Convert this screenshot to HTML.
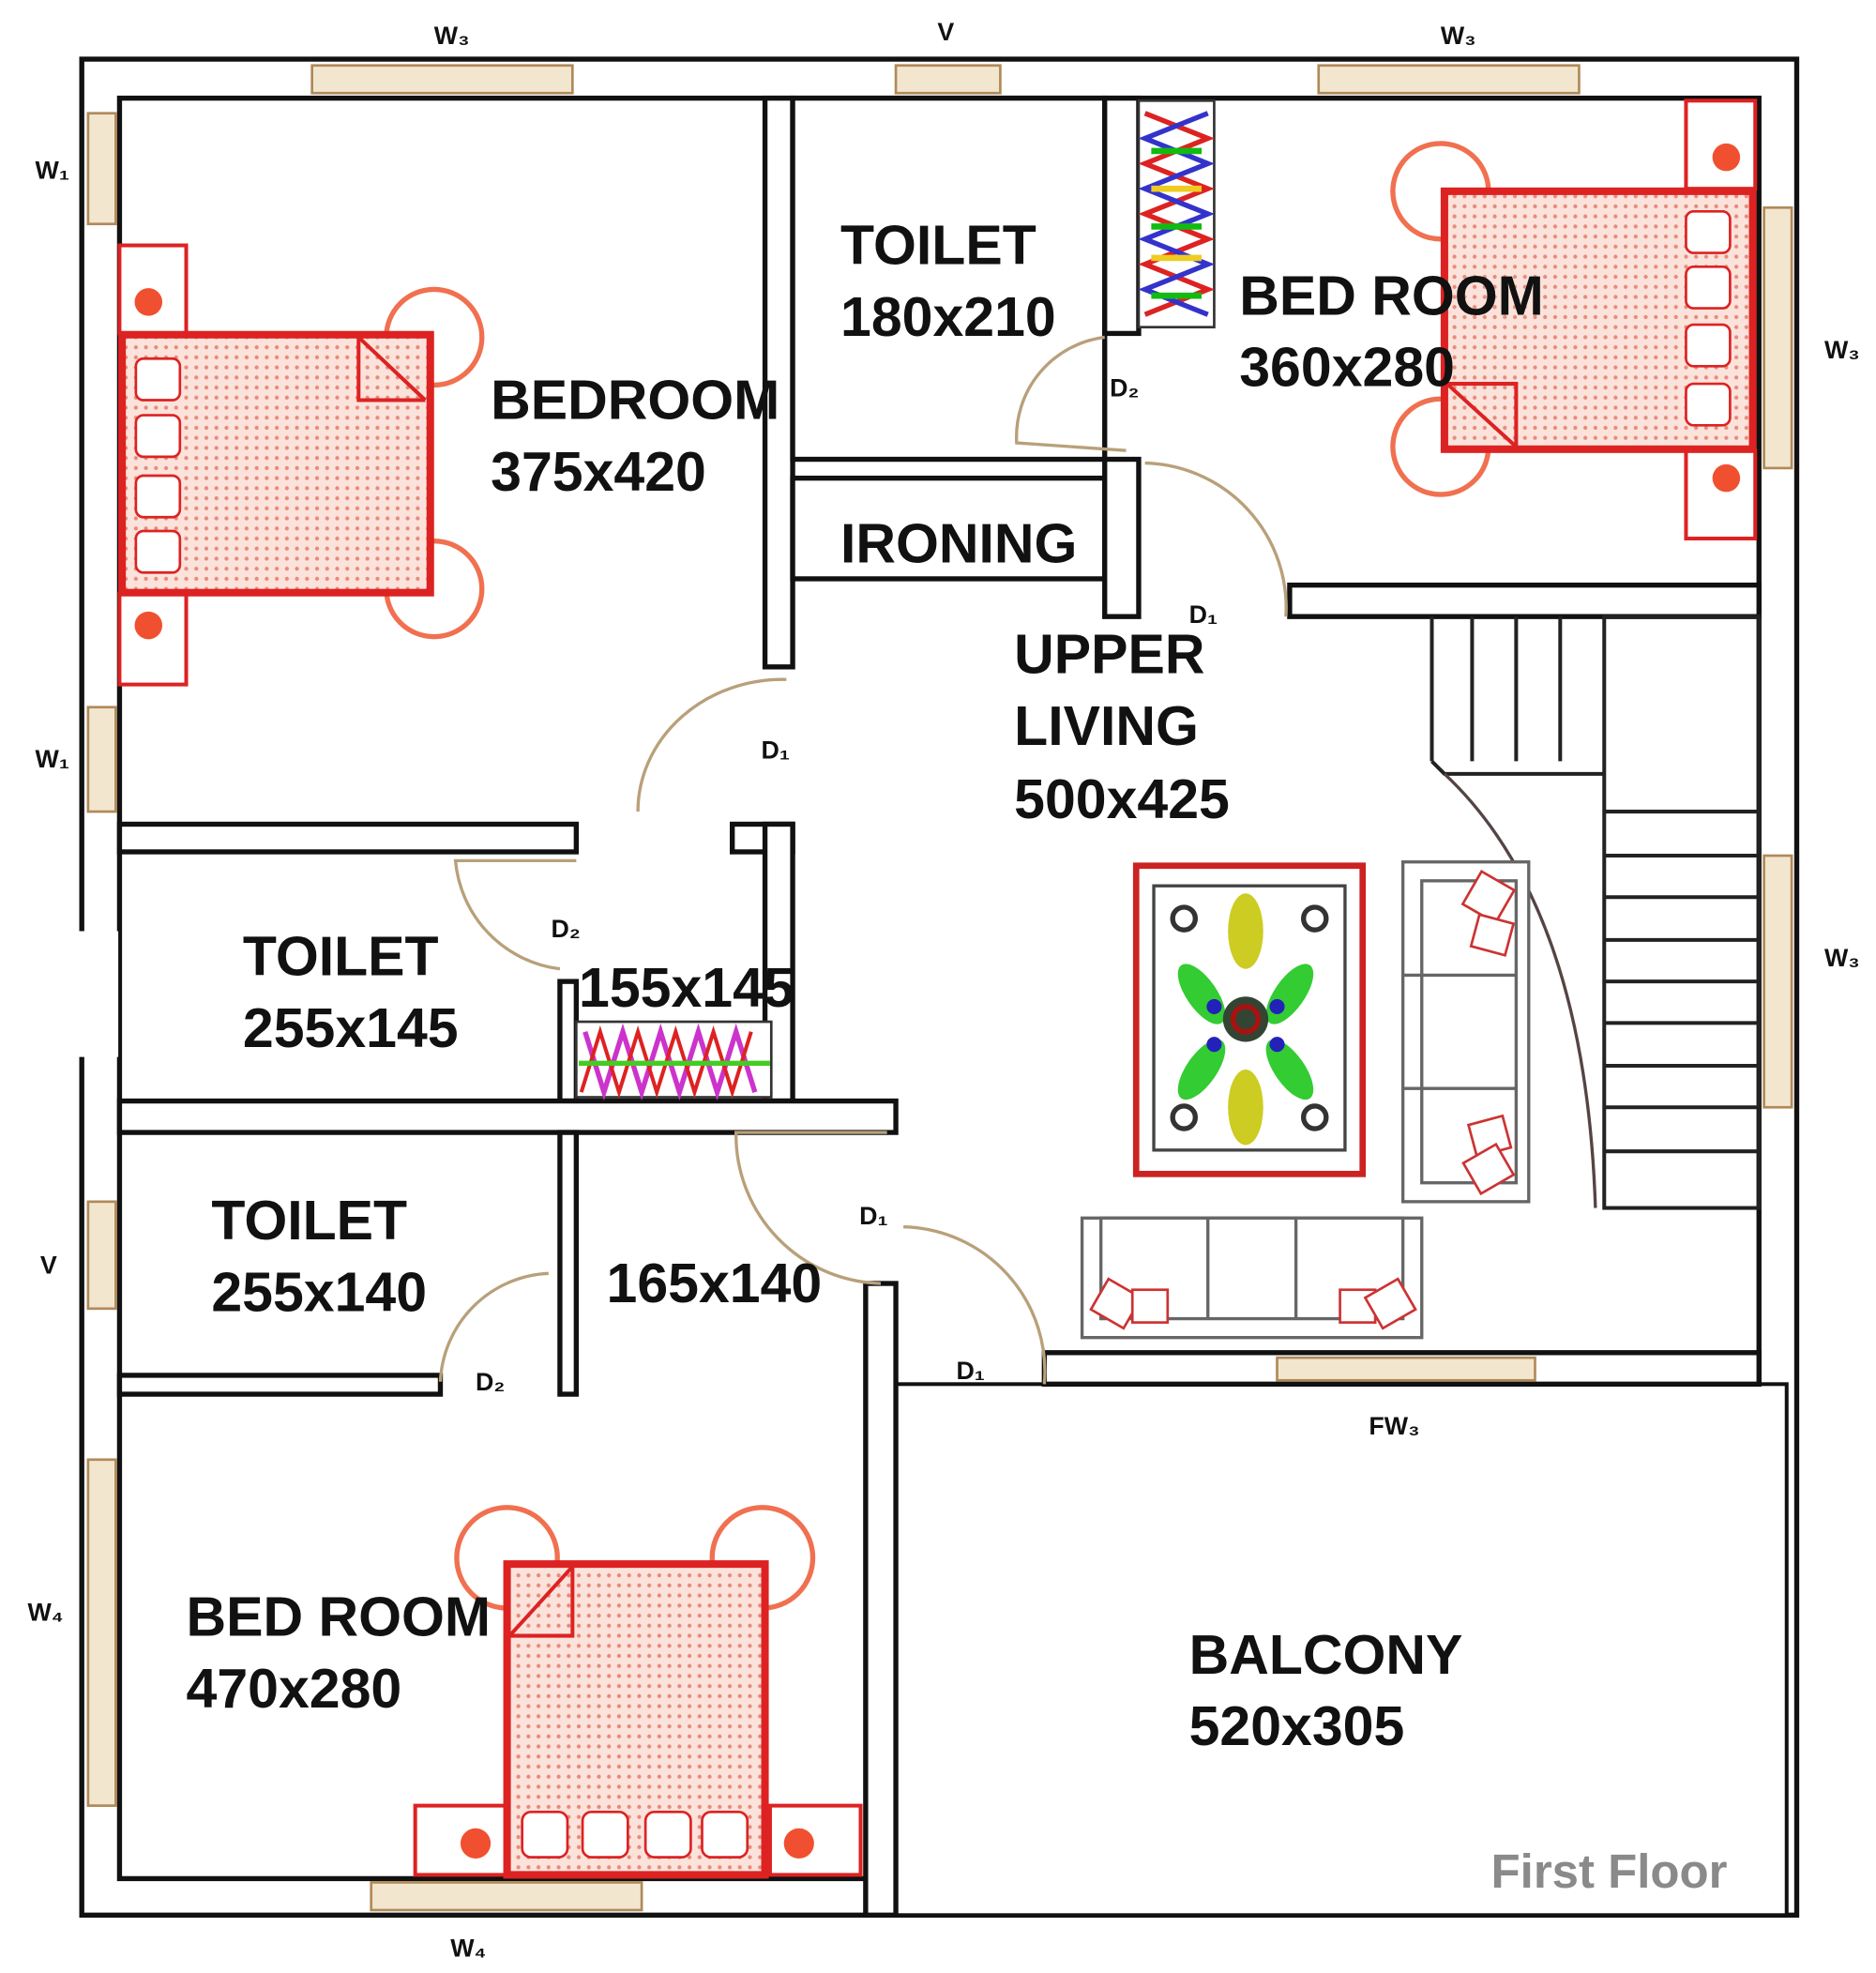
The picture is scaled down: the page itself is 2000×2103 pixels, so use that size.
<!DOCTYPE html>
<html><head><meta charset="utf-8"><style>
html,body{margin:0;padding:0;background:#fff}
svg{display:block}
text{font-family:"Liberation Sans",sans-serif;fill:#111}
</style></head><body>
<svg width="2000" height="2103" viewBox="0 0 1491 1568" preserveAspectRatio="none" xmlns="http://www.w3.org/2000/svg">
<defs>
<pattern id="dots" width="8" height="8" patternUnits="userSpaceOnUse">
<rect width="8" height="8" fill="#fbe3dc"/><circle cx="4" cy="4" r="1.6" fill="#e88a7a"/>
</pattern>
</defs>
<rect width="1491" height="1568" fill="#fff"/>
<g stroke="#111" stroke-width="4" fill="#fff">
<rect x="65" y="47" width="1363" height="1475"/>
<rect x="95" y="78" width="1303" height="1415"/>
<rect x="712" y="1100" width="708" height="422" stroke-width="3"/>
<rect x="608" y="78" width="22" height="452"/>
<rect x="630" y="78" width="248" height="287" fill="#fff"/>
<rect x="878" y="78" width="27" height="187"/>
<rect x="630" y="380" width="248" height="80"/>
<rect x="878" y="365" width="27" height="125"/>
<rect x="1025" y="465" width="373" height="25"/>
<rect x="95" y="655" width="363" height="22"/>
<rect x="582" y="655" width="48" height="22"/>
<rect x="608" y="655" width="22" height="220"/>
<rect x="445" y="780" width="13" height="95"/>
<rect x="95" y="875" width="617" height="25"/>
<rect x="445" y="900" width="13" height="208"/>
<rect x="95" y="1093" width="255" height="15"/>
<rect x="688" y="1020" width="24" height="502"/>
<rect x="830" y="1075" width="568" height="25"/>
</g>
<rect x="60" y="740" width="34" height="100" fill="#fff"/>
<g fill="#f3e6cf" stroke="#b08a5a" stroke-width="2">
<rect x="248" y="52" width="207" height="22"/><rect x="712" y="52" width="83" height="22"/><rect x="1048" y="52" width="207" height="22"/>
<rect x="70" y="90" width="22" height="88"/><rect x="70" y="562" width="22" height="83"/><rect x="70" y="955" width="22" height="85"/><rect x="70" y="1160" width="22" height="275"/>
<rect x="1402" y="165" width="22" height="207"/><rect x="1402" y="680" width="22" height="200"/>
<rect x="295" y="1496" width="215" height="22"/><rect x="1015" y="1079" width="205" height="18"/>
</g>
<g fill="none" stroke="#b8a07a" stroke-width="2.5">
<path d="M625 540 A115 105 0 0 0 507 645"/>
<path d="M458 684 L362 684 A95 95 0 0 0 445 770"/>
<path d="M436 1012 A90 90 0 0 0 350 1098"/>
<path d="M705 900 L585 900 A118 118 0 0 0 700 1020"/>
<path d="M718 975 A115 115 0 0 1 830 1100"/>
<path d="M878 268 A80 80 0 0 0 808 352 L895 358"/>
<path d="M910 368 A115 115 0 0 1 1022 490"/>
</g>
<g stroke="#222" stroke-width="3" fill="none">
<rect x="1275" y="490" width="123" height="470"/>
<line x1="1138" y1="490" x2="1138" y2="605"/>
<line x1="1170" y1="490" x2="1170" y2="605"/>
<line x1="1205" y1="490" x2="1205" y2="605"/>
<line x1="1240" y1="490" x2="1240" y2="605"/>
<path d="M1138 605 L1148 615 L1275 615"/>
<line x1="1275" y1="645" x2="1398" y2="645"/><line x1="1275" y1="680" x2="1398" y2="680"/>
<line x1="1275" y1="713" x2="1398" y2="713"/><line x1="1275" y1="747" x2="1398" y2="747"/>
<line x1="1275" y1="780" x2="1398" y2="780"/><line x1="1275" y1="813" x2="1398" y2="813"/>
<line x1="1275" y1="847" x2="1398" y2="847"/><line x1="1275" y1="880" x2="1398" y2="880"/>
<line x1="1275" y1="915" x2="1398" y2="915"/>
<path d="M1148 615 Q1260 720 1268 960" stroke="#544" stroke-width="2.5"/>
</g>
<g stroke="#666" stroke-width="2.5" fill="#fff">
<rect x="1115" y="685" width="100" height="270"/><rect x="1130" y="700" width="75" height="240"/>
<line x1="1115" y1="775" x2="1205" y2="775"/><line x1="1115" y1="865" x2="1205" y2="865"/>
<rect x="860" y="968" width="270" height="95"/><rect x="875" y="968" width="240" height="80"/>
<line x1="960" y1="968" x2="960" y2="1048"/><line x1="1030" y1="968" x2="1030" y2="1048"/>
</g>
<g stroke="#c33" stroke-width="2" fill="#fff">
<rect x="1168" y="698" width="30" height="30" transform="rotate(30 1183 713)"/>
<rect x="1172" y="730" width="28" height="26" transform="rotate(15 1186 743)"/>
<rect x="1170" y="890" width="28" height="26" transform="rotate(-15 1184 903)"/>
<rect x="1168" y="915" width="30" height="28" transform="rotate(-30 1183 929)"/>
<rect x="872" y="1022" width="30" height="28" transform="rotate(30 887 1036)"/>
<rect x="900" y="1025" width="28" height="26"/>
<rect x="1065" y="1025" width="28" height="26"/>
<rect x="1090" y="1022" width="30" height="28" transform="rotate(-30 1105 1036)"/>
</g>
<rect x="903" y="688" width="180" height="245" fill="#fff" stroke="#c22" stroke-width="5"/>
<rect x="917" y="704" width="152" height="210" fill="#fff" stroke="#444" stroke-width="2.5"/>
<g>
<ellipse cx="990" cy="740" rx="14" ry="30" fill="#cc2"/>
<ellipse cx="990" cy="880" rx="14" ry="30" fill="#cc2"/>
<ellipse cx="955" cy="790" rx="12" ry="28" fill="#3c3" transform="rotate(-35 955 790)"/>
<ellipse cx="1025" cy="790" rx="12" ry="28" fill="#3c3" transform="rotate(35 1025 790)"/>
<ellipse cx="955" cy="850" rx="12" ry="28" fill="#3c3" transform="rotate(35 955 850)"/>
<ellipse cx="1025" cy="850" rx="12" ry="28" fill="#3c3" transform="rotate(-35 1025 850)"/>
<circle cx="990" cy="810" r="18" fill="#343" /><circle cx="990" cy="810" r="10" fill="none" stroke="#a11" stroke-width="4"/>
<circle cx="965" cy="800" r="6" fill="#22b"/><circle cx="1015" cy="800" r="6" fill="#22b"/>
<circle cx="965" cy="830" r="6" fill="#22b"/><circle cx="1015" cy="830" r="6" fill="#22b"/>
<g fill="none" stroke="#333" stroke-width="4"><circle cx="941" cy="730" r="9"/><circle cx="1045" cy="730" r="9"/><circle cx="941" cy="888" r="9"/><circle cx="1045" cy="888" r="9"/></g>
</g>
<g>
<rect x="905" y="80" width="60" height="180" fill="#fff" stroke="#333" stroke-width="2"/>
<path d="M910 90 L960 110 L910 130 L960 150 L910 170 L960 190 L910 210 L960 230 L910 250" fill="none" stroke="#d22" stroke-width="4"/>
<path d="M960 90 L910 110 L960 130 L910 150 L960 170 L910 190 L960 210 L910 230 L960 250" fill="none" stroke="#33c" stroke-width="4"/>
<path d="M915 120 L955 120 M915 180 L955 180 M915 235 L955 235" stroke="#1b1" stroke-width="5"/>
<path d="M915 150 L955 150 M915 205 L955 205" stroke="#ec2" stroke-width="5"/>
<rect x="458" y="812" width="155" height="60" fill="#fff" stroke="#333" stroke-width="2"/>
<path d="M465 820 L480 868 L495 820 L510 868 L525 820 L540 868 L555 820 L570 868 L585 820 L600 868" fill="none" stroke="#c3c" stroke-width="4"/>
<path d="M462 868 L477 820 L492 868 L507 820 L522 868 L537 820 L552 868 L567 820 L582 868 L597 820" fill="none" stroke="#d22" stroke-width="3"/>
<line x1="460" y1="845" x2="612" y2="845" stroke="#4c2" stroke-width="4"/>
</g>
<g>
<rect x="95" y="195" width="53" height="70" fill="#fff" stroke="#d22" stroke-width="3"/>
<rect x="95" y="472" width="53" height="72" fill="#fff" stroke="#d22" stroke-width="3"/>
<circle cx="118" cy="240" r="11" fill="#f05030"/><circle cx="118" cy="497" r="11" fill="#f05030"/>
<circle cx="345" cy="268" r="38" fill="none" stroke="#f07050" stroke-width="4"/>
<circle cx="345" cy="468" r="38" fill="none" stroke="#f07050" stroke-width="4"/>
<rect x="97" y="266" width="245" height="205" fill="url(#dots)" stroke="#d22" stroke-width="6"/>
<path d="M285 268 L285 318 L338 318 M285 268 L338 318" fill="none" stroke="#d22" stroke-width="3"/>
<g fill="#fff" stroke="#d22" stroke-width="2"><rect x="108" y="285" width="35" height="33" rx="6"/><rect x="108" y="330" width="35" height="33" rx="6"/><rect x="108" y="378" width="35" height="33" rx="6"/><rect x="108" y="422" width="35" height="33" rx="6"/></g>
<rect x="1340" y="80" width="55" height="70" fill="#fff" stroke="#d22" stroke-width="3"/>
<rect x="1340" y="358" width="55" height="70" fill="#fff" stroke="#d22" stroke-width="3"/>
<circle cx="1372" cy="125" r="11" fill="#f05030"/><circle cx="1372" cy="380" r="11" fill="#f05030"/>
<circle cx="1145" cy="152" r="38" fill="none" stroke="#f07050" stroke-width="4"/>
<circle cx="1145" cy="355" r="38" fill="none" stroke="#f07050" stroke-width="4"/>
<rect x="1148" y="152" width="245" height="205" fill="url(#dots)" stroke="#d22" stroke-width="6"/>
<path d="M1150 305 L1205 305 L1205 355 M1150 305 L1205 355" fill="none" stroke="#d22" stroke-width="3"/>
<g fill="#fff" stroke="#d22" stroke-width="2"><rect x="1340" y="168" width="35" height="33" rx="6"/><rect x="1340" y="212" width="35" height="33" rx="6"/><rect x="1340" y="258" width="35" height="33" rx="6"/><rect x="1340" y="305" width="35" height="33" rx="6"/></g>
<rect x="330" y="1435" width="72" height="55" fill="#fff" stroke="#d22" stroke-width="3"/>
<rect x="612" y="1435" width="72" height="55" fill="#fff" stroke="#d22" stroke-width="3"/>
<circle cx="378" cy="1465" r="12" fill="#f05030"/><circle cx="635" cy="1465" r="12" fill="#f05030"/>
<circle cx="403" cy="1238" r="40" fill="none" stroke="#f07050" stroke-width="4"/>
<circle cx="606" cy="1238" r="40" fill="none" stroke="#f07050" stroke-width="4"/>
<rect x="403" y="1243" width="205" height="247" fill="url(#dots)" stroke="#d22" stroke-width="6"/>
<path d="M405 1300 L455 1300 L455 1245 M405 1300 L455 1245" fill="none" stroke="#d22" stroke-width="3"/>
<g fill="#fff" stroke="#d22" stroke-width="2"><rect x="415" y="1440" width="36" height="36" rx="7"/><rect x="463" y="1440" width="36" height="36" rx="7"/><rect x="513" y="1440" width="36" height="36" rx="7"/><rect x="558" y="1440" width="36" height="36" rx="7"/></g>
</g>
<g font-size="44" font-weight="bold" style="letter-spacing:0px">
<text x="390" y="333">BEDROOM</text><text x="390" y="390">375x420</text>
<text x="668" y="210">TOILET</text><text x="668" y="267">180x210</text>
<text x="985" y="250">BED ROOM</text><text x="985" y="307">360x280</text>
<text x="668" y="447">IRONING</text>
<text x="806" y="535">UPPER</text><text x="806" y="592">LIVING</text><text x="806" y="650">500x425</text>
<text x="193" y="775">TOILET</text><text x="193" y="832">255x145</text>
<text x="460" y="800">155x145</text>
<text x="168" y="985">TOILET</text><text x="168" y="1042">255x140</text>
<text x="482" y="1035">165x140</text>
<text x="148" y="1300">BED ROOM</text><text x="148" y="1357">470x280</text>
<text x="945" y="1330">BALCONY</text><text x="945" y="1387">520x305</text>
</g>
<g font-size="20" font-weight="bold">
<text x="345" y="35">W₃</text><text x="745" y="32">V</text><text x="1145" y="35">W₃</text>
<text x="28" y="142">W₁</text><text x="28" y="610">W₁</text><text x="32" y="1012">V</text><text x="22" y="1288">W₄</text>
<text x="1450" y="285">W₃</text><text x="1450" y="768">W₃</text>
<text x="358" y="1555">W₄</text><text x="1088" y="1140">FW₃</text>
<text x="605" y="603">D₁</text><text x="438" y="745">D₂</text><text x="378" y="1105">D₂</text>
<text x="683" y="973">D₁</text><text x="760" y="1096">D₁</text><text x="882" y="315">D₂</text><text x="945" y="495">D₁</text>
</g>
<text x="1185" y="1500" font-size="38" font-weight="bold" style="fill:#8a8a8a">First Floor</text>
</svg>
</body></html>
